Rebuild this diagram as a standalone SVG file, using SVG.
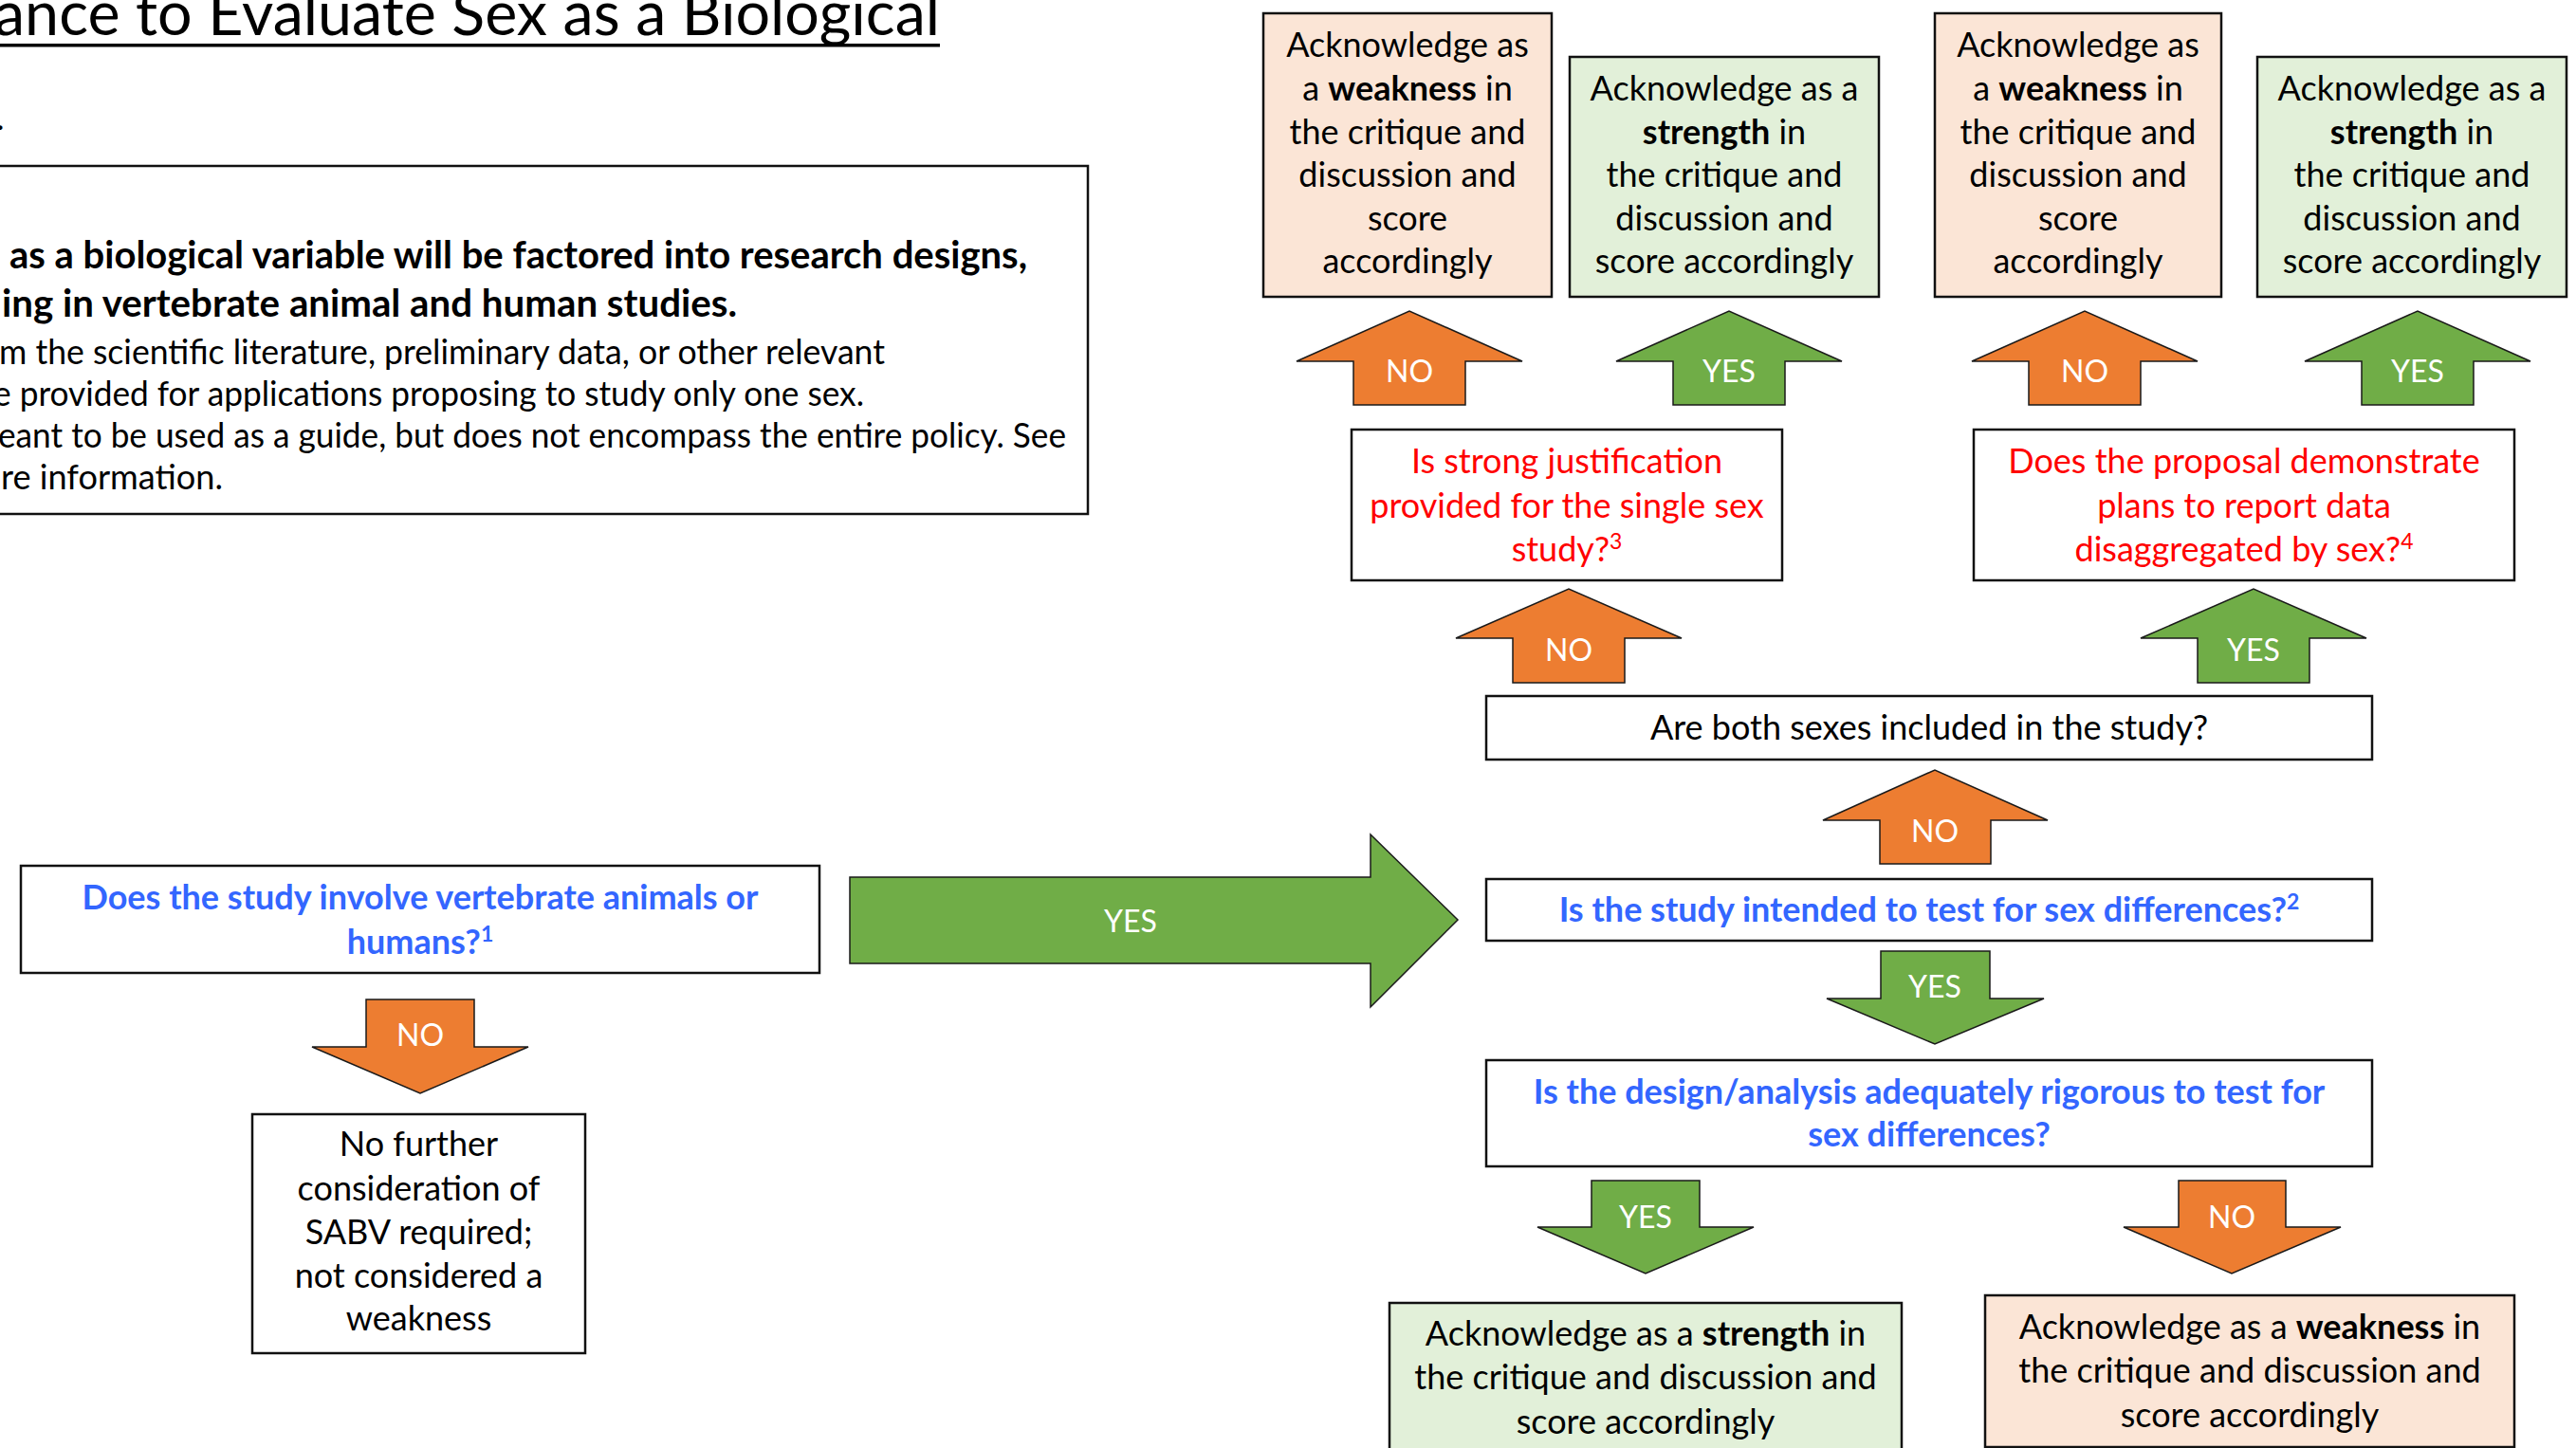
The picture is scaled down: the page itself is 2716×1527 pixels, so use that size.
<svg xmlns="http://www.w3.org/2000/svg" width="2716" height="1527" viewBox="0 0 2716 1527">
<style>
.box{fill:#fff;stroke:#111;stroke-width:2.5}
.peach{fill:#FBE5D6}
.lgreen{fill:#E2F0D9}
text{font-family:Lato,'Liberation Sans',sans-serif;font-size:36px;fill:#000}
.c{text-anchor:middle}
.q{fill:#3366FF;font-weight:bold}
.r{fill:#FF0000}
.b{font-weight:bold}
.ao{fill:#ED7D31;stroke:#1a1a1a;stroke-width:1.5}
.ag{fill:#70AD47;stroke:#1a1a1a;stroke-width:1.5}
.lbl{fill:#fff;font-size:32px;text-anchor:middle}
</style>
<rect width="2716" height="1527" fill="#fff"/>

<g id="title">
<text x="-6" y="37" style="font-size:64px" textLength="997" lengthAdjust="spacingAndGlyphs">ance to Evaluate Sex as a Biological</text>
<rect x="0" y="46" width="991" height="3.5" fill="#000"/>
<text x="-4" y="137">.</text>
</g>

<g id="intro">
<rect class="box" x="-5" y="175" width="1152" height="367"/>
<text class="b" x="10" y="283" style="font-size:40px" textLength="1073" lengthAdjust="spacingAndGlyphs">as a biological variable will be factored into research designs,</text>
<text class="b" x="2" y="334" style="font-size:40px" textLength="775" lengthAdjust="spacingAndGlyphs">ing in vertebrate animal and human studies.</text>
<text x="-1" y="384" textLength="934" lengthAdjust="spacingAndGlyphs">m the scientific literature, preliminary data, or other relevant</text>
<text x="-7" y="428" textLength="918" lengthAdjust="spacingAndGlyphs">e provided for applications proposing to study only one sex.</text>
<text x="-2" y="472" textLength="1126" lengthAdjust="spacingAndGlyphs">eant to be used as a guide, but does not encompass the entire policy. See</text>
<text x="1" y="516" textLength="234" lengthAdjust="spacingAndGlyphs">re information.</text>
</g>

<g id="q1">
<rect class="box" x="22" y="913" width="842" height="113"/>
<text class="c q" x="443" y="959">Does the study involve vertebrate animals or</text>
<text class="c q" x="443" y="1006">humans?<tspan dy="-13" style="font-size:23px">1</tspan></text>
</g>

<g id="no-further">
<rect class="box" x="266" y="1175" width="351" height="252"/>
<text class="c" x="441.5" y="1219">No further</text>
<text class="c" x="441.5" y="1266">consideration of</text>
<text class="c" x="441.5" y="1312">SABV required;</text>
<text class="c" x="441.5" y="1358">not considered a</text>
<text class="c" x="441.5" y="1403">weakness</text>
</g>

<g id="q2">
<rect class="box" x="1567" y="927" width="934" height="65"/>
<text class="c q" x="2034" y="972">Is the study intended to test for sex differences?<tspan dy="-13" style="font-size:23px">2</tspan></text>
</g>

<g id="q-both">
<rect class="box" x="1567" y="734" width="934" height="67"/>
<text class="c" x="2034" y="780">Are both sexes included in the study?</text>
</g>

<g id="q-rigor">
<rect class="box" x="1567" y="1118" width="934" height="112"/>
<text class="c q" x="2034" y="1164">Is the design/analysis adequately rigorous to test for</text>
<text class="c q" x="2034" y="1209">sex differences?</text>
</g>

<g id="q-justify">
<rect class="box" x="1425" y="453" width="454" height="159"/>
<text class="c r" x="1652" y="499">Is strong justification</text>
<text class="c r" x="1652" y="546">provided for the single sex</text>
<text class="c r" x="1652" y="592">study?<tspan dy="-13" style="font-size:23px">3</tspan></text>
</g>

<g id="q-report">
<rect class="box" x="2081" y="453" width="570" height="159"/>
<text class="c r" x="2366" y="499">Does the proposal demonstrate</text>
<text class="c r" x="2366" y="546">plans to report data</text>
<text class="c r" x="2366" y="592">disaggregated by sex?<tspan dy="-13" style="font-size:23px">4</tspan></text>
</g>

<g id="weak-1">
<rect class="box peach" x="1332" y="14" width="304" height="299"/>
<text class="c" x="1484" y="60">Acknowledge as</text>
<text class="c" x="1484" y="106">a <tspan class="b">weakness</tspan> in</text>
<text class="c" x="1484" y="152">the critique and</text>
<text class="c" x="1484" y="197">discussion and</text>
<text class="c" x="1484" y="243">score</text>
<text class="c" x="1484" y="288">accordingly</text>
</g>

<g id="strength-1">
<rect class="box lgreen" x="1655" y="60" width="326" height="253"/>
<text class="c" x="1818" y="106">Acknowledge as a</text>
<text class="c" x="1818" y="152"><tspan class="b">strength</tspan> in</text>
<text class="c" x="1818" y="197">the critique and</text>
<text class="c" x="1818" y="243">discussion and</text>
<text class="c" x="1818" y="288">score accordingly</text>
</g>

<g id="weak-2">
<rect class="box peach" x="2040" y="14" width="302" height="299"/>
<text class="c" x="2191" y="60">Acknowledge as</text>
<text class="c" x="2191" y="106">a <tspan class="b">weakness</tspan> in</text>
<text class="c" x="2191" y="152">the critique and</text>
<text class="c" x="2191" y="197">discussion and</text>
<text class="c" x="2191" y="243">score</text>
<text class="c" x="2191" y="288">accordingly</text>
</g>

<g id="strength-2">
<rect class="box lgreen" x="2380" y="60" width="326" height="253"/>
<text class="c" x="2543" y="106">Acknowledge as a</text>
<text class="c" x="2543" y="152"><tspan class="b">strength</tspan> in</text>
<text class="c" x="2543" y="197">the critique and</text>
<text class="c" x="2543" y="243">discussion and</text>
<text class="c" x="2543" y="288">score accordingly</text>
</g>

<g id="strength-3">
<rect class="box lgreen" x="1465" y="1374" width="540" height="170"/>
<text class="c" x="1735" y="1419">Acknowledge as a <tspan class="b">strength</tspan> in</text>
<text class="c" x="1735" y="1465">the critique and discussion and</text>
<text class="c" x="1735" y="1512">score accordingly</text>
</g>

<g id="weak-3">
<rect class="box peach" x="2093" y="1366" width="558" height="160"/>
<text class="c" x="2372" y="1412">Acknowledge as a <tspan class="b">weakness</tspan> in</text>
<text class="c" x="2372" y="1458">the critique and discussion and</text>
<text class="c" x="2372" y="1505">score accordingly</text>
</g>

<g id="connectors">
<polygon class="ag" points="896,925 1445,925 1445,880 1537,970 1445,1062 1445,1016 896,1016"/>
<text class="lbl" x="1192" y="983">YES</text>
<polygon class="ao" points="386,1054 500,1054 500,1104 557,1104 443,1153 329,1104 386,1104"/>
<text class="lbl" x="443" y="1103">NO</text>
<polygon class="ao" points="1982,911 1982,865 1922,865 2040,812 2159,865 2099,865 2099,911"/>
<text class="lbl" x="2040" y="888">NO</text>
<polygon class="ag" points="1983,1003 2098,1003 2098,1053 2155,1053 2040,1101 1926,1053 1983,1053"/>
<text class="lbl" x="2040" y="1052">YES</text>
<polygon class="ag" points="1678,1245 1792,1245 1792,1294 1849,1294 1735,1343 1621,1294 1678,1294"/>
<text class="lbl" x="1735" y="1295">YES</text>
<polygon class="ao" points="2297,1245 2410,1245 2410,1294 2468,1294 2353,1343 2239,1294 2297,1294"/>
<text class="lbl" x="2353" y="1295">NO</text>
<polygon class="ao" points="1595,720 1595,673 1535,673 1654,621 1773,673 1713,673 1713,720"/>
<text class="lbl" x="1654" y="697">NO</text>
<polygon class="ag" points="2317,720 2317,673 2257,673 2376,621 2495,673 2435,673 2435,720"/>
<text class="lbl" x="2376" y="697">YES</text>
<polygon class="ao" points="1427,427 1427,381 1367,381 1486,328 1605,381 1545,381 1545,427"/>
<text class="lbl" x="1486" y="403">NO</text>
<polygon class="ag" points="1764,427 1764,381 1704,381 1823,328 1942,381 1882,381 1882,427"/>
<text class="lbl" x="1823" y="403">YES</text>
<polygon class="ao" points="2139,427 2139,381 2079,381 2198,328 2317,381 2257,381 2257,427"/>
<text class="lbl" x="2198" y="403">NO</text>
<polygon class="ag" points="2490,427 2490,381 2430,381 2549,328 2668,381 2608,381 2608,427"/>
<text class="lbl" x="2549" y="403">YES</text>
</g>
</svg>
